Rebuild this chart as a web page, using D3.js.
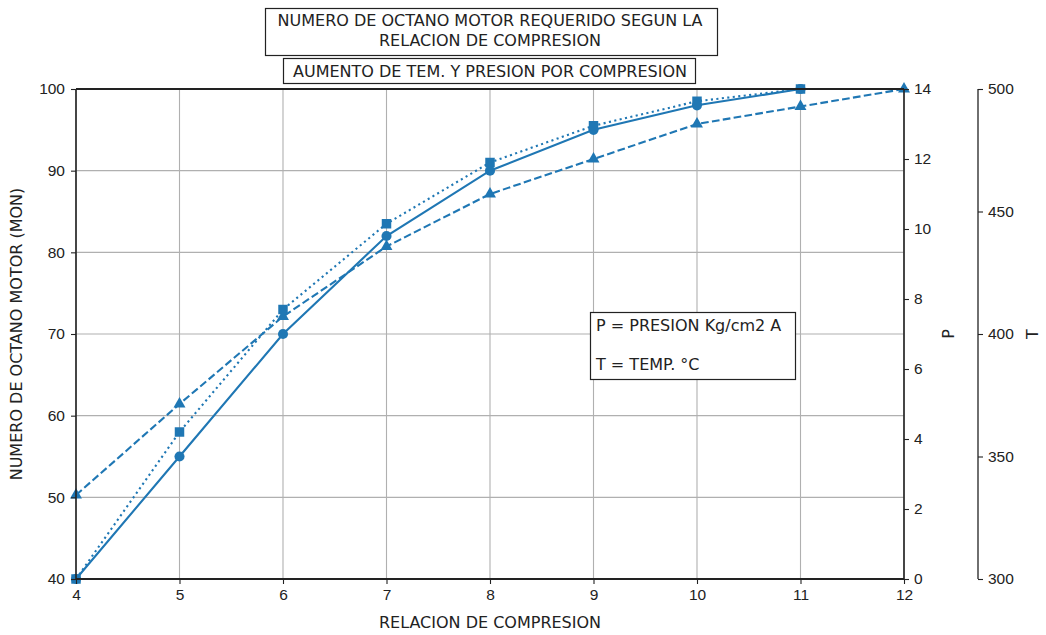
<!DOCTYPE html>
<html>
<head>
<meta charset="utf-8">
<script src="https://cdn.jsdelivr.net/npm/d3@7"></script>
<style>
  body { margin: 0; background: #fff; }
  svg { font-family: "DejaVu Sans", sans-serif; }
  .axis text { font-size: 15.5px; fill: #222; }
  .axis path { display: none; }
  .axis line { stroke: #222; stroke-width: 1.1; }
</style>
</head>
<body>
<script>
// datos
var relacion = [4, 5, 6, 7, 8, 9, 10, 11, 12];
var mon = [40, 55, 70, 82, 90, 95, 98, 100];          // relacion 4..11
var presion = [2.4, 5, 7.5, 9.5, 11, 12, 13, 13.5, 14]; // relacion 4..12
var temp = [300, 360, 410, 445, 470, 485, 495, 500];   // relacion 4..11

var monTicks = [40, 50, 60, 70, 80, 90, 100];
var pTicks = [0, 2, 4, 6, 8, 10, 12, 14];
var tTicks = [300, 350, 400, 450, 500];

var width = 1046, height = 635;
var margin = {left: 76, right: 142, top: 89, bottom: 56};
var w = width - margin.left - margin.right;   // 828
var h = height - margin.top - margin.bottom;  // 490
var color = "#1f77b4";
var fs = 16;

var svg = d3.select("body").append("svg").attr("width", width).attr("height", height);
var g = svg.append("g").attr("transform", "translate(" + margin.left + "," + margin.top + ")");

// Scales
var x = d3.scaleLinear().domain([4, 12]).range([0, w]);
var y = d3.scaleLinear().domain([40, 100]).range([h, 0]);
var yP = d3.scaleLinear().domain([0, 14]).range([h, 0]);
var yT = d3.scaleLinear().domain([300, 500]).range([h, 0]);

// grid
g.append("g").selectAll("line").data(relacion).join("line")
  .attr("x1", d => x(d)).attr("x2", d => x(d)).attr("y1", 0).attr("y2", h)
  .attr("stroke", "#b0b0b0").attr("stroke-width", 1.1);
g.append("g").selectAll("line").data(monTicks).join("line")
  .attr("x1", 0).attr("x2", w).attr("y1", d => y(d)).attr("y2", d => y(d))
  .attr("stroke", "#b0b0b0").attr("stroke-width", 1.1);

// lineas
function serie(vals, ys, dash, marker, size) {
  var pts = vals.map(function(v, i) { return [relacion[i], v]; });
  var line = d3.line().x(d => x(d[0])).y(d => ys(d[1]));
  var sg = g.append("g");
  sg.append("path").attr("d", line(pts)).attr("fill", "none")
    .attr("stroke", color).attr("stroke-width", 2.1)
    .attr("stroke-dasharray", dash);
  var sym = d3.symbol().type(marker).size(size);
  sg.selectAll("path.m").data(pts).join("path").attr("class", "m")
    .attr("transform", d => "translate(" + x(d[0]) + "," + ys(d[1]) + ")")
    .attr("d", sym).attr("fill", color);
}
serie(mon, y, null, d3.symbolCircle, 80);
serie(presion, yP, "7.7,3.3", d3.symbolTriangle, 62);
serie(temp, yT, "2.1,3.4", d3.symbolSquare, 90);

// spines
var sp = g.append("g").attr("stroke", "#222").attr("stroke-width", 1.3);
sp.append("line").attr("x1", 0).attr("x2", w).attr("y1", 0).attr("y2", 0).attr("stroke-width", 2);
sp.append("line").attr("x1", 0).attr("x2", w).attr("y1", h).attr("y2", h).attr("stroke-width", 2);
sp.append("line").attr("x1", 0).attr("x2", 0).attr("y1", 0).attr("y2", h).attr("stroke-width", 1.6);
sp.append("line").attr("x1", w).attr("x2", w).attr("y1", 0).attr("y2", h).attr("stroke-width", 1.6);
sp.append("line").attr("x1", 902).attr("x2", 902).attr("y1", 0).attr("y2", h);

// ejes
g.append("g").attr("class", "axis").attr("transform", "translate(0," + h + ")")
  .call(d3.axisBottom(x).tickValues(relacion).tickFormat(d3.format("d")).tickSize(5).tickPadding(5));
g.append("g").attr("class", "axis")
  .call(d3.axisLeft(y).tickValues(monTicks).tickSize(5).tickPadding(6));
g.append("g").attr("class", "axis").attr("transform", "translate(" + w + ",0)")
  .call(d3.axisRight(yP).tickValues(pTicks).tickSize(5).tickPadding(5));
g.append("g").attr("class", "axis").attr("transform", "translate(902,0)")
  .call(d3.axisRight(yT).tickValues(tTicks).tickSize(5).tickPadding(5));

// etiquetas
svg.append("text").attr("transform", "translate(22," + (margin.top + h / 2) + ") rotate(-90)")
  .attr("text-anchor", "middle").attr("font-size", fs).attr("fill", "#222")
  .text("NUMERO DE OCTANO MOTOR (MON)");
svg.append("text").attr("x", margin.left + w / 2).attr("y", 628)
  .attr("text-anchor", "middle").attr("font-size", fs).attr("fill", "#222")
  .text("RELACION DE COMPRESION");
svg.append("text").attr("transform", "translate(954," + (margin.top + h / 2) + ") rotate(-90)")
  .attr("text-anchor", "middle").attr("font-size", fs).attr("fill", "#222").text("P");
svg.append("text").attr("transform", "translate(1038," + (margin.top + h / 2) + ") rotate(-90)")
  .attr("text-anchor", "middle").attr("font-size", fs).attr("fill", "#222").text("T");

// titulos
var cx = margin.left + w / 2;
svg.append("rect").attr("x", 265.5).attr("y", 8.5).attr("width", 452).attr("height", 47)
  .attr("fill", "#fff").attr("stroke", "#222").attr("stroke-width", 1.2);
svg.append("text").attr("x", cx).attr("y", 26).attr("text-anchor", "middle").attr("font-size", fs).attr("fill", "#222")
  .text("NUMERO DE OCTANO MOTOR REQUERIDO SEGUN LA");
svg.append("text").attr("x", cx).attr("y", 46).attr("text-anchor", "middle").attr("font-size", fs).attr("fill", "#222")
  .text("RELACION DE COMPRESION");
svg.append("rect").attr("x", 283.5).attr("y", 58.5).attr("width", 412).attr("height", 25)
  .attr("fill", "#fff").attr("stroke", "#222").attr("stroke-width", 1.2);
svg.append("text").attr("x", cx).attr("y", 77).attr("text-anchor", "middle").attr("font-size", fs).attr("fill", "#222")
  .text("AUMENTO DE TEM. Y PRESION POR COMPRESION");

// nota P / T
svg.append("rect").attr("x", 590.5).attr("y", 312.5).attr("width", 205).attr("height", 67)
  .attr("fill", "#fff").attr("stroke", "#222").attr("stroke-width", 1.2);
svg.append("text").attr("x", 596).attr("y", 331).attr("font-size", fs).attr("fill", "#222").text("P = PRESION Kg/cm2 A");
svg.append("text").attr("x", 596).attr("y", 370).attr("font-size", fs).attr("fill", "#222").text("T = TEMP. °C");
</script>
</body>
</html>
